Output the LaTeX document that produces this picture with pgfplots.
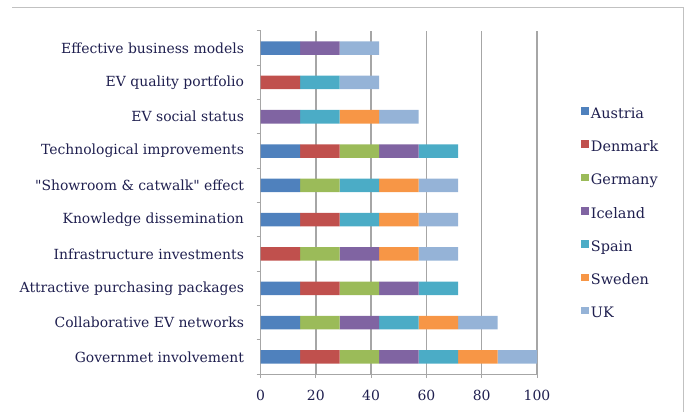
\documentclass[border=0pt]{standalone}
\usepackage{pgfplots}
\pgfplotsset{compat=1.18}
\usepackage{fontspec}
\setmainfont{DejaVu Serif}
\definecolor{cAus}{HTML}{4F81BD}
\definecolor{cDen}{HTML}{C0504D}
\definecolor{cGer}{HTML}{9BBB59}
\definecolor{cIce}{HTML}{8064A2}
\definecolor{cSpa}{HTML}{4BACC6}
\definecolor{cSwe}{HTML}{F79646}
\definecolor{cUK}{HTML}{95B3D7}
\definecolor{txt}{HTML}{1F1F4F}
\definecolor{grd}{HTML}{A6A6A6}
\begin{document}
\begin{tikzpicture}[x=1bp,y=1bp]
\useasboundingbox (0,0) rectangle (689,412);
\draw[grd!70, line width=1bp] (12,404) -- (683,404) -- (683,0);
\begin{axis}[
  at={(260.5bp,38bp)}, anchor=south west,
  scale only axis, width=276.5bp, height=343bp,
  xbar stacked, bar width=13.5bp,
  xmin=0, xmax=100, ymin=-0.5, ymax=9.5,
  xtick={0,20,...,100},
  ytick={-0.5,0.5,...,9.5},
  yticklabels={},
  extra y ticks={0,...,9},
  extra y tick labels={Governmet involvement, Collaborative EV networks, Attractive purchasing packages, Infrastructure investments, Knowledge dissemination, \textquotedbl Showroom \& catwalk\textquotedbl{} effect, Technological improvements, EV social status, EV quality portfolio, Effective business models},
  extra y tick style={major tick length=0pt, grid=none},
  major tick length=4bp,
  xmajorgrids,
  grid style={grd, line width=1.5bp},
  axis x line*=bottom, axis y line*=left,
  axis line style={grd, line width=1bp, -},
  tick style={grd, line width=1bp},
  ytick pos=left, xtick pos=lower,
  tick align=outside,
  /pgf/number format/assume math mode=true,
  ticklabel style={font=\fontsize{14}{16}\selectfont, text=txt},
  xticklabel style={yshift=-9bp, font=\fontsize{14}{16}\selectfont},
  yticklabel style={xshift=-13bp},
  legend style={at={(1.16,0.468)}, anchor=west, draw=none, fill=none,
    font=\fontsize{14.5}{16}\selectfont, text=txt, row sep=17bp,
    legend cell align=left, inner sep=0pt},
  legend image code/.code={\fill[#1] (0bp,-1bp) rectangle (7.5bp,6.5bp);},
  every axis plot/.append style={draw=none},
]
% Austria
\addplot[fill=cAus] coordinates {(14.2857,0) (14.2857,1) (14.2857,2) (0,3) (14.2857,4) (14.2857,5) (14.2857,6) (0,7) (0,8) (14.2857,9)};
% Denmark
\addplot[fill=cDen] coordinates {(14.2857,0) (0,1) (14.2857,2) (14.2857,3) (14.2857,4) (0,5) (14.2857,6) (0,7) (14.2857,8) (0,9)};
% Germany
\addplot[fill=cGer] coordinates {(14.2857,0) (14.2857,1) (14.2857,2) (14.2857,3) (0,4) (14.2857,5) (14.2857,6) (0,7) (0,8) (0,9)};
% Iceland
\addplot[fill=cIce] coordinates {(14.2857,0) (14.2857,1) (14.2857,2) (14.2857,3) (0,4) (0,5) (14.2857,6) (14.2857,7) (0,8) (14.2857,9)};
% Spain
\addplot[fill=cSpa] coordinates {(14.2857,0) (14.2857,1) (14.2857,2) (0,3) (14.2857,4) (14.2857,5) (14.2857,6) (14.2857,7) (14.2857,8) (0,9)};
% Sweden
\addplot[fill=cSwe] coordinates {(14.2857,0) (14.2857,1) (0,2) (14.2857,3) (14.2857,4) (14.2857,5) (0,6) (14.2857,7) (0,8) (0,9)};
% UK
\addplot[fill=cUK] coordinates {(14.2857,0) (14.2857,1) (0,2) (14.2857,3) (14.2857,4) (14.2857,5) (0,6) (14.2857,7) (14.2857,8) (14.2857,9)};
\legend{Austria, Denmark, Germany, Iceland, Spain, Sweden, UK}
\end{axis}
\end{tikzpicture}
\end{document}
